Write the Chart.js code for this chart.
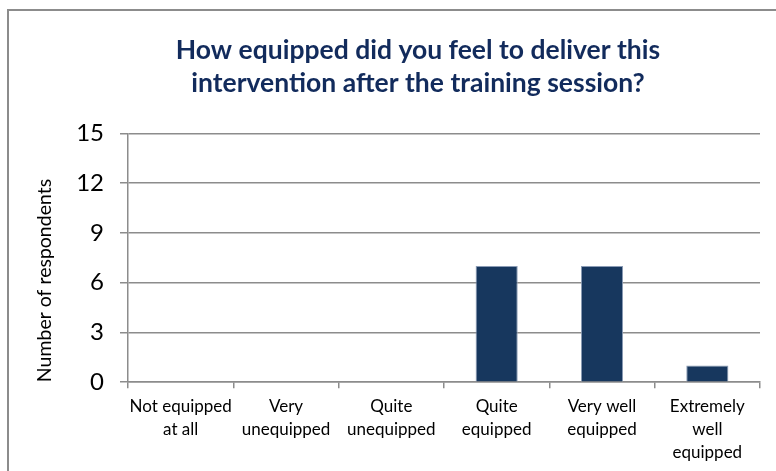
<!DOCTYPE html>
<html lang="en">
<head>
    <meta charset="UTF-8">
    <title>How equipped did you feel</title>
    <script src="https://cdn.jsdelivr.net/npm/chart.js"></script>
    <style>
        html, body {
            margin: 0;
            padding: 0;
            background: #ffffff;
            overflow: hidden;
        }
        .frame {
            position: absolute;
            left: 7px;
            top: 9px;
            width: 900px;
            height: 600px;
            border: 2px solid #8c8c8c;
        }
        .wrap {
            position: absolute;
            left: 0;
            top: 0;
            width: 776px;
            height: 471px;
        }
    </style>
</head>
<body>
<div class="frame"></div>
<div class="wrap"><canvas id="chart" width="776" height="471"></canvas></div>

<script>
    // chart data
    const categories = [
        ['Not equipped', 'at all'],
        ['Very', 'unequipped'],
        ['Quite', 'unequipped'],
        ['Quite', 'equipped'],
        ['Very well', 'equipped'],
        ['Extremely', 'well', 'equipped']
    ];
    const respondents = [0, 0, 0, 7, 7, 1];
    const yTicks = [0, 3, 6, 9, 12, 15];

    const fontFamily = 'Lato, "Open Sans", sans-serif';
    const padLeft = 33;

    // nudge the title a little left of the plot centre, like the original
    const titleShift = {
        id: 'titleShift',
        afterLayout(chart) {
            chart.titleBlock.left -= 26;
            chart.titleBlock.right -= 26;
        }
    };

    new Chart(document.getElementById('chart'), {
        type: 'bar',
        data: {
            labels: categories,
            datasets: [{
                data: respondents,
                backgroundColor: '#17375e',
                borderColor: '#8a9bb5',
                borderWidth: { top: 1, left: 1, right: 1, bottom: 0 },
                categoryPercentage: 1,
                barPercentage: 0.4
            }]
        },
        options: {
            responsive: false,
            animation: false,
            layout: {
                padding: { left: padLeft, right: 16, top: 34, bottom: 0 }
            },
            plugins: {
                legend: { display: false },
                tooltip: { enabled: false },
                title: {
                    display: true,
                    fullSize: false,
                    text: ['How equipped did you feel to deliver this', 'intervention after the training session?'],
                    color: '#122b5c',
                    font: { family: fontFamily, size: 26.5, weight: 'bold', lineHeight: 1.25 },
                    padding: { top: 0, bottom: 33 }
                }
            },
            scales: {
                x: {
                    grid: {
                        drawOnChartArea: false,
                        color: '#8c8c8c',
                        lineWidth: 1.5,
                        tickLength: 6
                    },
                    border: { color: '#8c8c8c', width: 1.5 },
                    ticks: {
                        color: '#000000',
                        maxRotation: 0,
                        autoSkip: false,
                        padding: 7,
                        font: { family: fontFamily, size: 17, lineHeight: 1.35 }
                    }
                },
                y: {
                    min: 0,
                    max: 15,
                    afterBuildTicks(scale) {
                        scale.ticks = yTicks.map(v => ({ value: v }));
                    },
                    afterFit(scale) {
                        scale.width = 128 - padLeft;
                    },
                    grid: {
                        color: '#8c8c8c',
                        lineWidth: 1.5,
                        tickLength: 8
                    },
                    border: { color: '#8c8c8c', width: 1.5 },
                    ticks: {
                        color: '#000000',
                        padding: 16,
                        font: { family: fontFamily, size: 24 }
                    },
                    title: {
                        display: true,
                        align: 'start',
                        text: 'Number of respondents',
                        color: '#000000',
                        font: { family: fontFamily, size: 19.5, lineHeight: 1.2 },
                        padding: { top: 0, bottom: 0 }
                    }
                }
            }
        },
        plugins: [titleShift]
    });
</script>
</body>
</html>
